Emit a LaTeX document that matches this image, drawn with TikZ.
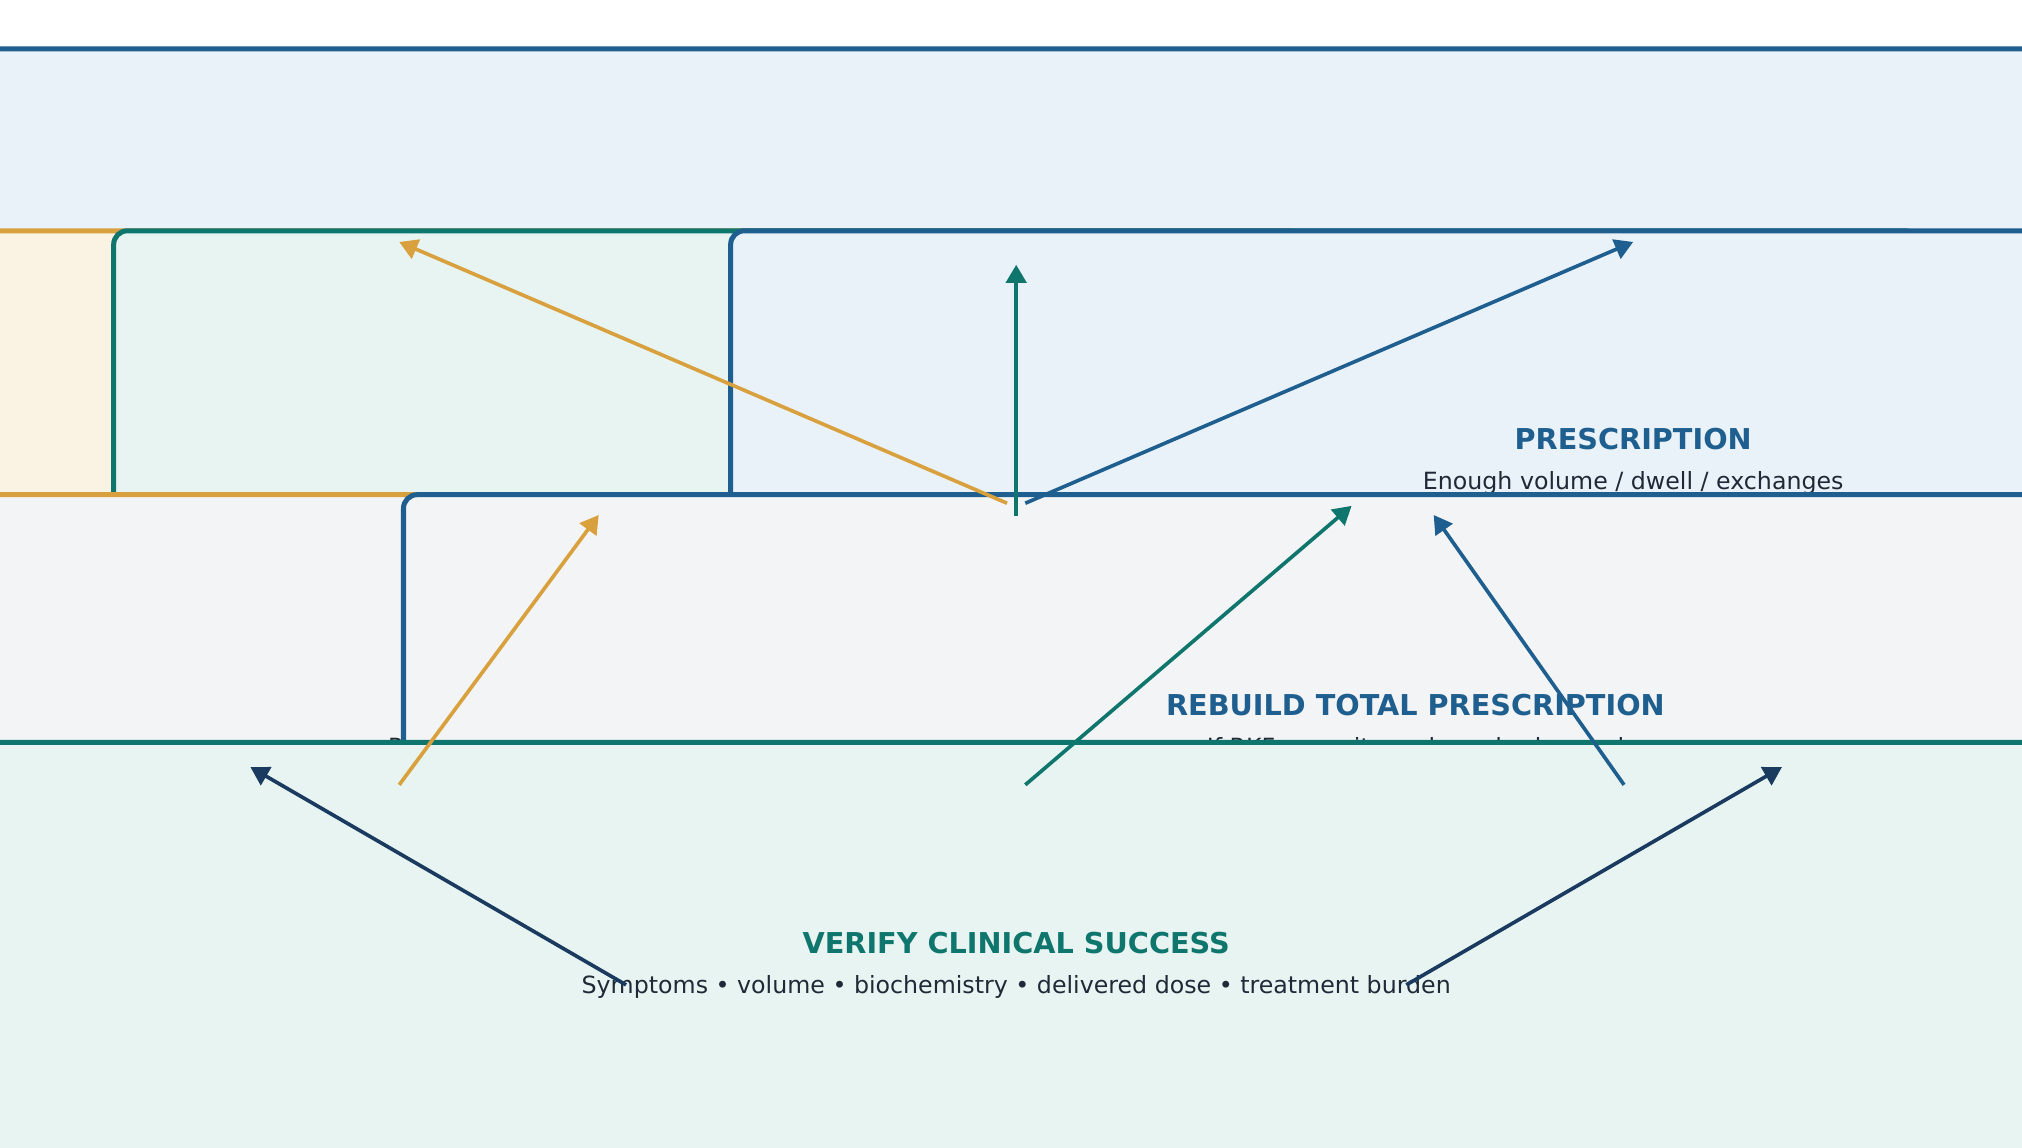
\documentclass[tikz,border=0pt]{standalone}
\usepackage{fontspec}
\setmainfont{DejaVu Sans}
\usetikzlibrary{arrows.meta}
\definecolor{navy}{HTML}{1A3A5F}
\definecolor{edge_blue}{HTML}{1F5F8F}
\definecolor{edge_teal}{HTML}{0F766E}
\definecolor{edge_orange}{HTML}{D9A03E}
\definecolor{node_blue}{HTML}{EAF2F9}
\definecolor{node_teal}{HTML}{E8F4F1}
\definecolor{node_orange}{HTML}{FAF3E4}
\definecolor{node_gray}{HTML}{F3F4F6}
\definecolor{body_text}{HTML}{1F2937}
\newcommand{\boxtext}[3]{\fontsize{6.3}{7}\selectfont\bfseries\color{#1}#2\\[-3.2pt]\fontsize{5.2}{6.2}\selectfont\mdseries\color{body_text}#3}
\begin{document}
\begin{tikzpicture}[x=0.01cm,y=-0.01cm,>={Triangle[length=4pt,width=4.5pt]},thick]
    \tikzstyle{box}=[rounded corners=3pt, line width=1.1pt, align=center, inner sep=0pt]
    \tikzstyle{bb}=[style=box, draw=edge_blue, fill=node_blue]
    \tikzstyle{tb}=[style=box, draw=edge_teal, fill=node_teal]
    \tikzstyle{ob}=[style=box, draw=edge_orange, fill=node_orange]

    \useasboundingbox (0,0) rectangle (1560,885);
    \node[anchor=base west, text=navy, font=\fontsize{11.8}{14}\selectfont\bfseries] (title) at (73,100) {FLOWCHART 1.3 — “THE PATIENT IS UNDERDIALYZED”};
    \node[anchor=base west, text=edge_blue, font=\fontsize{5.3}{6}\selectfont, inner sep=0pt] (sub) at (73,120) {Do not add exchanges until the failing component is named};

    \node[bb, minimum width=560, minimum height=98] (top) at (784,210) {\boxtext{edge_blue}{APPARENT UNDERDIALYSIS}{Symptoms / biochemistry / falling clearance}};
    \node[ob, minimum width=396, minimum height=112] (del) at (308,375) {\boxtext{edge_orange}{DELIVERY}{Missed / shortened exchanges?\\[-2pt]Cycler or catheter problem?}};
    \node[tb, minimum width=396, minimum height=112] (res) at (784,375) {\boxtext{edge_teal}{RESIDUAL KIDNEY}{Urine / renal clearance falling?}};
    \node[bb, minimum width=396, minimum height=112] (pre) at (1260,375) {\boxtext{edge_blue}{PRESCRIPTION}{Enough volume / dwell / exchanges\\[-2pt]for this physiology?}};
    \node[ob, fill=node_gray, minimum width=444, minimum height=102] (cor) at (476,561) {\boxtext{edge_orange}{CORRECT THE CAUSE}{Restore delivered therapy / mechanics}};
    \node[bb, fill=node_gray, minimum width=444, minimum height=102] (reb) at (1092,561) {\boxtext{edge_blue}{REBUILD TOTAL PRESCRIPTION}{If RKF or peritoneal needs changed}};
    \node[tb, minimum width=676, minimum height=98] (ver) at (784,745) {\boxtext{edge_teal}{VERIFY CLINICAL SUCCESS}{Symptoms • volume • biochemistry • delivered dose • treatment burden}};

    \draw[->, edge_orange] ([xshift=-2]top.south) ++(0,4) -- ([yshift=-3]del.north);
    \draw[->, edge_teal] ([yshift=-4]top.south) -- ([yshift=-8]res.north);
    \draw[->, edge_blue] ([xshift=2]top.south) ++(0,4) -- ([yshift=-3]pre.north);
    \draw[->, edge_orange] ([yshift=-9]del.south) -- ([xshift=-4,yshift=-5]cor.north);
    \draw[->, edge_teal] ([xshift=2,yshift=-9]res.south) -- ([xshift=-14,yshift=-3]reb.north);
    \draw[->, edge_blue] ([xshift=-2,yshift=-9]pre.south) -- ([xshift=4,yshift=-5]reb.north);
    \draw[->, navy] ([xshift=2,yshift=-5]cor.south) -- ([xshift=-168,yshift=-6]ver.north);
    \draw[->, navy] ([xshift=-2,yshift=-5]reb.south) -- ([xshift=168,yshift=-6]ver.north);
\end{tikzpicture}
\end{document}
